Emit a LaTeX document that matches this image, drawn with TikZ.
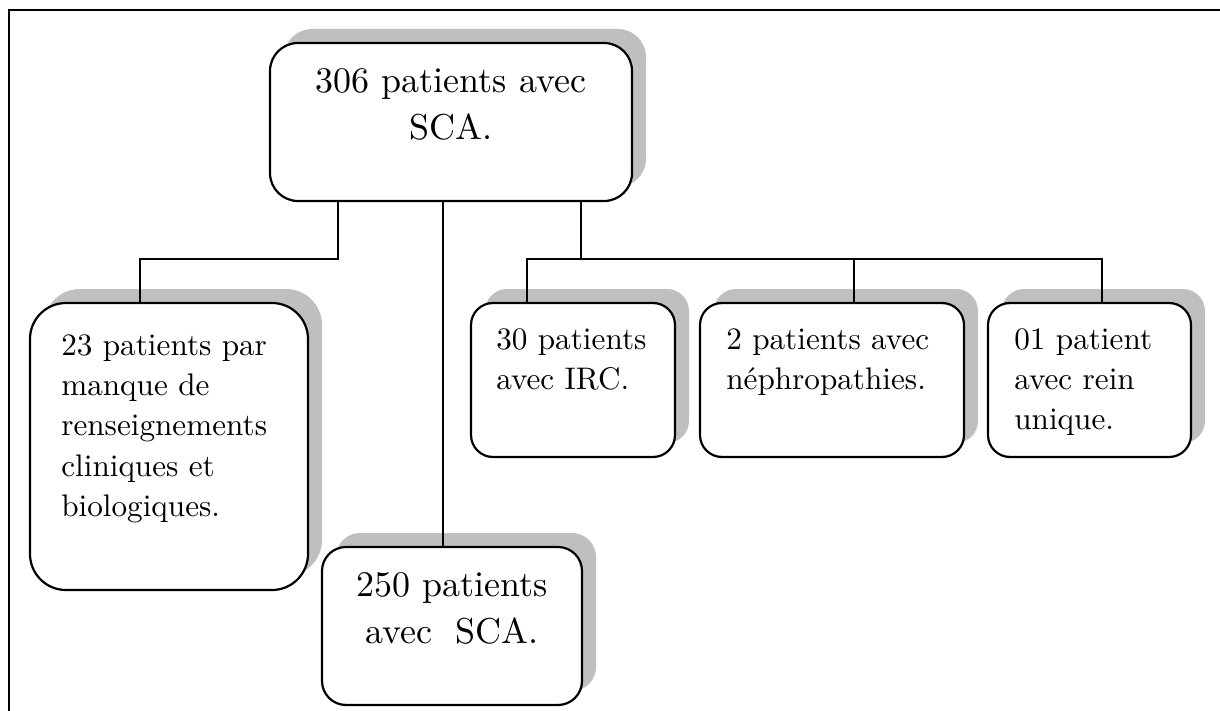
\documentclass[tikz,border=0pt]{standalone}
\usepackage{fontspec}
\usetikzlibrary{shadows}
\newfontfamily\lmten{lmroman10-regular}[Extension=.otf]

\begin{document}
\begin{tikzpicture}[x=0.5pt,y=-0.5pt]
	 \tikzstyle{box}=[draw,line width=1.1pt,fill=white,rounded corners=11pt,inner sep=0pt,
	   drop shadow={shadow xshift=7pt,shadow yshift=7pt,fill=black!25,opacity=1}]
	 \tikzstyle{big text}=[inner sep=0pt,align=center,font=\lmten\fontsize{18}{23.5}\selectfont]
	 \tikzstyle{small text}=[inner sep=0pt,align=left,font=\lmten\fontsize{15.6}{20.2}\selectfont]
	 \tikzstyle{link}=[draw,line width=1.1pt,-]
	 \useasboundingbox (0,0) rectangle (1220,711);
	 % frame
	 \draw[line width=1.3pt] (9,711) -- (9,10) -- (1220,10);
	 % boxes
	 \node[box,rounded corners=14pt,minimum width=181pt,minimum height=79pt] (total) at (451,122) {};
	 \node[box,rounded corners=18pt,minimum width=139pt,minimum height=143.5pt] (manque) at (169,446.5) {};
	 \node[box,rounded corners=12pt,minimum width=130pt,minimum height=79pt] (retenus) at (452,626) {};
	 \node[box,minimum width=102pt,minimum height=77pt] (irc) at (573,380) {};
	 \node[box,minimum width=132pt,minimum height=77pt] (nephro) at (832,380) {};
	 \node[box,minimum width=101.5pt,minimum height=77pt] (rein) at (1089.5,380) {};
	 % texts
	 \node[big text,anchor=north] (total text) at ([yshift=-13pt]total.north) {306 patients avec\\SCA.};
	 \node[small text,anchor=north west] (manque text) at ([xshift=16pt,yshift=-16pt]manque.north west) {23 patients par\\manque de\\renseignements\\cliniques et\\biologiques.};
	 \node[big text,anchor=north] (retenus text) at ([yshift=-13pt]retenus.north) {250 patients\\avec\ \ SCA.};
	 \node[small text,anchor=north west] (irc text) at ([xshift=13pt,yshift=-13pt]irc.north west) {30 patients\\avec IRC.};
	 \node[small text,anchor=north west] (nephro text) at ([xshift=13.5pt,yshift=-13pt]nephro.north west) {2 patients avec\\néphropathies.};
	 \node[small text,anchor=north west] (rein text) at ([xshift=13.5pt,yshift=-13pt]rein.north west) {01 patient\\avec rein\\unique.};
	 % links
	 \coordinate (fork) at (0,259);
	 \draw[link] (338,0 |- total.south) |- (140,0 |- fork) -- (140,0 |- manque.north);
	 \draw[link] (443,0 |- total.south) -- (443,0 |- retenus.north);
	 \draw[link] (581,0 |- total.south) -- (581,0 |- fork);
	 \draw[link] (527,0 |- irc.north) |- (1102,0 |- fork) -- (1102,0 |- rein.north);
	 \draw[link] (854,0 |- fork) -- (854,0 |- nephro.north);
 \end{tikzpicture}
\end{document}
